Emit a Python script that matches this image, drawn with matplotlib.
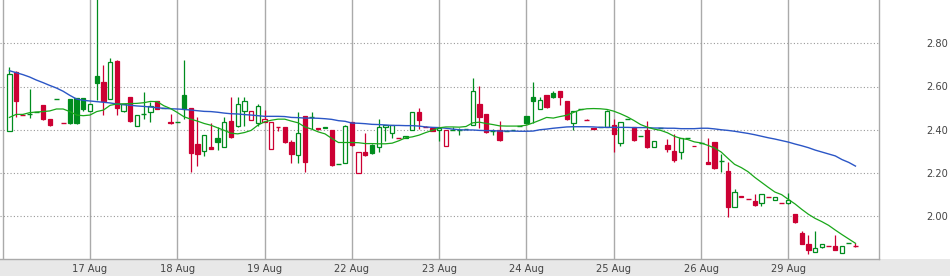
import matplotlib
matplotlib.use("Agg")
import matplotlib.pyplot as plt
from matplotlib.patches import Rectangle
from matplotlib.ticker import FormatStrFormatter
import numpy as np

# ---------------- data ----------------
day_labels = ["16 Aug", "17 Aug", "18 Aug", "19 Aug", "22 Aug", "23 Aug",
              "24 Aug", "25 Aug", "26 Aug", "29 Aug"]
bars_per_session = 13          # half-hour bars per trading day
prev_close = 2.39              # close of the bar before the first visible one

opens = [2.395, 2.668, 2.470, 2.475, 2.484, 2.514, 2.449, 2.543, 2.429, 2.542,
         2.549, 2.549, 2.489, 2.649, 2.620, 2.544, 2.718, 2.489, 2.551, 2.418,
         2.472, 2.480, 2.532, 2.500, 2.438, 2.434, 2.560, 2.500, 2.332, 2.304,
         2.321, 2.360, 2.318, 2.440, 2.419, 2.486, 2.447, 2.429, 2.437, 2.309,
         2.412, 2.412, 2.343, 2.282, 2.463, 2.458, 2.406, 2.412, 2.398, 2.241,
         2.247, 2.434, 2.198, 2.299, 2.329, 2.318, 2.412, 2.383, 2.360, 2.360,
         2.397, 2.481, 2.415, 2.407, 2.397, 2.326, 2.399, 2.401, 2.402, 2.421,
         2.518, 2.472, 2.395, 2.398, 2.392, 2.397, 2.418, 2.463, 2.551, 2.498,
         2.560, 2.569, 2.578, 2.532, 2.429, 2.494, 2.444, 2.410, 2.411, 2.415,
         2.421, 2.341, 2.450, 2.412, 2.369, 2.398, 2.318, 2.408, 2.329, 2.301,
         2.299, 2.362, 2.325, 2.339, 2.252, 2.343, 2.257, 2.209, 2.041, 2.092,
         2.078, 2.069, 2.060, 2.087, 2.074, 2.061, 2.060, 2.010, 1.923, 1.872,
         1.836, 1.858, 1.861, 1.862, 1.829, 1.875, 1.864]
highs = [2.688, 2.672, 2.472, 2.588, 2.484, 2.514, 2.449, 2.543, 2.429, 2.542,
         2.549, 2.549, 2.517, 3.050, 2.699, 2.732, 2.722, 2.518, 2.551, 2.468,
         2.575, 2.529, 2.532, 2.500, 2.472, 2.434, 2.722, 2.500, 2.458, 2.378,
         2.429, 2.413, 2.458, 2.551, 2.551, 2.551, 2.489, 2.517, 2.491, 2.434,
         2.412, 2.412, 2.352, 2.480, 2.463, 2.481, 2.409, 2.412, 2.398, 2.241,
         2.421, 2.438, 2.299, 2.384, 2.336, 2.449, 2.420, 2.424, 2.360, 2.370,
         2.480, 2.501, 2.418, 2.407, 2.407, 2.397, 2.415, 2.407, 2.402, 2.639,
         2.602, 2.472, 2.402, 2.440, 2.392, 2.397, 2.418, 2.463, 2.622, 2.551,
         2.560, 2.578, 2.578, 2.532, 2.489, 2.494, 2.448, 2.410, 2.411, 2.491,
         2.450, 2.438, 2.450, 2.412, 2.369, 2.440, 2.350, 2.408, 2.355, 2.380,
         2.362, 2.362, 2.325, 2.339, 2.363, 2.343, 2.288, 2.252, 2.126, 2.092,
         2.078, 2.103, 2.103, 2.087, 2.089, 2.061, 2.109, 2.010, 1.933, 1.913,
         1.933, 1.870, 1.861, 1.913, 1.862, 1.875, 1.875]
lows = [2.395, 2.460, 2.468, 2.456, 2.484, 2.446, 2.418, 2.543, 2.429, 2.428,
        2.428, 2.488, 2.489, 2.538, 2.467, 2.544, 2.468, 2.480, 2.435, 2.418,
        2.448, 2.437, 2.498, 2.500, 2.428, 2.434, 2.452, 2.205, 2.233, 2.279,
        2.310, 2.307, 2.318, 2.361, 2.414, 2.417, 2.447, 2.417, 2.437, 2.309,
        2.395, 2.338, 2.245, 2.245, 2.205, 2.403, 2.398, 2.406, 2.232, 2.241,
        2.247, 2.326, 2.198, 2.279, 2.287, 2.298, 2.347, 2.360, 2.360, 2.360,
        2.397, 2.403, 2.411, 2.395, 2.347, 2.326, 2.399, 2.376, 2.402, 2.421,
        2.409, 2.386, 2.377, 2.347, 2.392, 2.397, 2.418, 2.425, 2.429, 2.498,
        2.501, 2.548, 2.514, 2.446, 2.397, 2.494, 2.444, 2.402, 2.411, 2.411,
        2.298, 2.326, 2.450, 2.347, 2.369, 2.315, 2.318, 2.408, 2.299, 2.249,
        2.266, 2.362, 2.324, 2.339, 2.240, 2.218, 2.206, 1.998, 2.041, 2.088,
        2.078, 2.049, 2.047, 2.087, 2.074, 2.061, 2.055, 1.970, 1.872, 1.825,
        1.836, 1.855, 1.861, 1.844, 1.829, 1.875, 1.856]
closes = [2.660, 2.534, 2.470, 2.475, 2.484, 2.452, 2.424, 2.543, 2.429, 2.431,
          2.433, 2.494, 2.517, 2.618, 2.534, 2.712, 2.502, 2.518, 2.440, 2.468,
          2.472, 2.511, 2.498, 2.500, 2.432, 2.434, 2.498, 2.293, 2.286, 2.378,
          2.312, 2.344, 2.438, 2.366, 2.518, 2.532, 2.489, 2.508, 2.449, 2.434,
          2.412, 2.344, 2.286, 2.387, 2.252, 2.458, 2.404, 2.408, 2.236, 2.241,
          2.417, 2.330, 2.299, 2.282, 2.293, 2.412, 2.420, 2.424, 2.360, 2.370,
          2.480, 2.443, 2.415, 2.395, 2.407, 2.397, 2.399, 2.401, 2.402, 2.578,
          2.460, 2.390, 2.395, 2.352, 2.392, 2.397, 2.418, 2.432, 2.534, 2.536,
          2.506, 2.552, 2.550, 2.452, 2.489, 2.494, 2.444, 2.403, 2.411, 2.489,
          2.381, 2.438, 2.450, 2.352, 2.369, 2.321, 2.350, 2.408, 2.312, 2.261,
          2.360, 2.362, 2.324, 2.339, 2.243, 2.223, 2.257, 2.044, 2.111, 2.088,
          2.078, 2.053, 2.103, 2.087, 2.089, 2.061, 2.075, 1.975, 1.872, 1.844,
          1.852, 1.870, 1.861, 1.844, 1.862, 1.875, 1.864]

ma_long = [2.673, 2.664, 2.655, 2.644, 2.630, 2.618, 2.605, 2.593, 2.578, 2.559,
           2.542, 2.536, 2.533, 2.530, 2.527, 2.524, 2.519, 2.516, 2.513, 2.510,
           2.508, 2.505, 2.502, 2.499, 2.497, 2.496, 2.494, 2.491, 2.488, 2.485,
           2.484, 2.481, 2.477, 2.474, 2.473, 2.470, 2.468, 2.465, 2.462, 2.462,
           2.462, 2.461, 2.457, 2.456, 2.454, 2.454, 2.453, 2.451, 2.448, 2.442,
           2.439, 2.431, 2.430, 2.428, 2.425, 2.424, 2.422, 2.420, 2.420, 2.419,
           2.419, 2.417, 2.413, 2.411, 2.410, 2.407, 2.403, 2.400, 2.399, 2.399,
           2.397, 2.396, 2.396, 2.394, 2.394, 2.394, 2.393, 2.393, 2.394, 2.400,
           2.403, 2.407, 2.410, 2.413, 2.414, 2.414, 2.414, 2.413, 2.411, 2.411,
           2.411, 2.411, 2.411, 2.410, 2.410, 2.410, 2.408, 2.408, 2.407, 2.407,
           2.405, 2.405, 2.405, 2.407, 2.407, 2.404, 2.400, 2.397, 2.393, 2.388,
           2.383, 2.377, 2.370, 2.363, 2.357, 2.350, 2.343, 2.334, 2.326, 2.317,
           2.306, 2.297, 2.288, 2.279, 2.262, 2.249, 2.232]
ma_short = [2.457, 2.471, 2.471, 2.479, 2.482, 2.484, 2.487, 2.496, 2.496, 2.484,
            2.468, 2.465, 2.468, 2.484, 2.491, 2.513, 2.519, 2.520, 2.521, 2.522,
            2.525, 2.531, 2.530, 2.511, 2.498, 2.480, 2.460, 2.449, 2.440, 2.429,
            2.421, 2.409, 2.397, 2.384, 2.381, 2.387, 2.397, 2.421, 2.437, 2.444,
            2.449, 2.449, 2.440, 2.432, 2.413, 2.403, 2.390, 2.381, 2.360, 2.341,
            2.341, 2.341, 2.340, 2.336, 2.336, 2.335, 2.335, 2.338, 2.349, 2.363,
            2.367, 2.375, 2.387, 2.397, 2.409, 2.413, 2.413, 2.412, 2.415, 2.432,
            2.435, 2.429, 2.424, 2.418, 2.417, 2.417, 2.417, 2.421, 2.432, 2.444,
            2.457, 2.454, 2.461, 2.467, 2.480, 2.492, 2.497, 2.498, 2.497, 2.494,
            2.486, 2.474, 2.460, 2.443, 2.424, 2.412, 2.403, 2.397, 2.386, 2.370,
            2.360, 2.355, 2.344, 2.339, 2.328, 2.316, 2.297, 2.268, 2.240, 2.225,
            2.206, 2.180, 2.157, 2.134, 2.112, 2.100, 2.078, 2.057, 2.032, 2.009,
            1.990, 1.975, 1.958, 1.936, 1.915, 1.895, 1.875]

y_ticks = [2.00, 2.20, 2.40, 2.60, 2.80]

# ---------------- layout ----------------
W, H = 950, 276
band_h = 17
ax_right_px = 879.3
bar_px = 87.29 / bars_per_session

fig = plt.figure(figsize=(W / 100, H / 100), dpi=100, facecolor="white")
fig.patches.append(Rectangle((0, 0), 1, band_h / H, transform=fig.transFigure,
                             facecolor="#e8e8e8", edgecolor="none", zorder=-10))
ax = fig.add_axes([0, band_h / H, ax_right_px / W, 1 - band_h / H])
ax.set_facecolor("white")

n = len(closes)
x = np.arange(1, n + 1)
ax.set_xlim(-2.7 / bar_px, (ax_right_px - 2.7) / bar_px)
ax.set_ylim(3.0 - 259 / 216.25, 3.0)

GREEN = "#008c1e"
RED = "#cc0033"
body_w = 0.64

prev = [prev_close] + closes[:-1]
cols = [GREEN if c >= p else RED for c, p in zip(closes, prev)]

ax.vlines(x, lows, highs, colors=cols, lw=0.9, zorder=2)
for xi, o, c, col in zip(x, opens, closes, cols):
    if abs(c - o) < 1e-9:
        ax.hlines(o, xi - body_w / 2 - 0.05, xi + body_w / 2 + 0.05, colors=col,
                  lw=1.0, zorder=3)
    else:
        lo, hi = min(o, c), max(o, c)
        face = "white" if c > o else col
        ax.add_patch(Rectangle((xi - body_w / 2, lo), body_w, hi - lo,
                               facecolor=face, edgecolor=col, lw=0.9, zorder=3))

ax.plot(x, ma_long, color="#2b56c6", lw=1.0, zorder=4)
ax.plot(x, ma_short, color="#19a719", lw=0.9, zorder=4)

# day separators / ticks
day_pos = [k * bars_per_session for k in range(len(day_labels))]
ax.set_xticks(day_pos)
ax.set_xticklabels(["" if k == 0 else lbl for k, lbl in enumerate(day_labels)])
ax.grid(axis="x", color="#aaaaaa", lw=1.0, ls="-", zorder=0)
ax.grid(axis="y", color="#999999", lw=0.8, ls=(0, (1, 2)), zorder=0)
ax.set_axisbelow(True)

ax.yaxis.tick_right()
ax.set_yticks(y_ticks)
ax.yaxis.set_major_formatter(FormatStrFormatter("%.2f"))
ax.tick_params(axis="y", length=0, pad=33.6, labelsize=7.1, labelcolor="#444444")
ax.tick_params(axis="x", length=0, pad=3.3, labelsize=7.1, labelcolor="#444444")

for s in ["top", "left"]:
    ax.spines[s].set_visible(False)
for s in ["right", "bottom"]:
    ax.spines[s].set_color("#aaaaaa")
    ax.spines[s].set_linewidth(1.0)

fig.savefig("out.png", dpi=100, facecolor="white")
